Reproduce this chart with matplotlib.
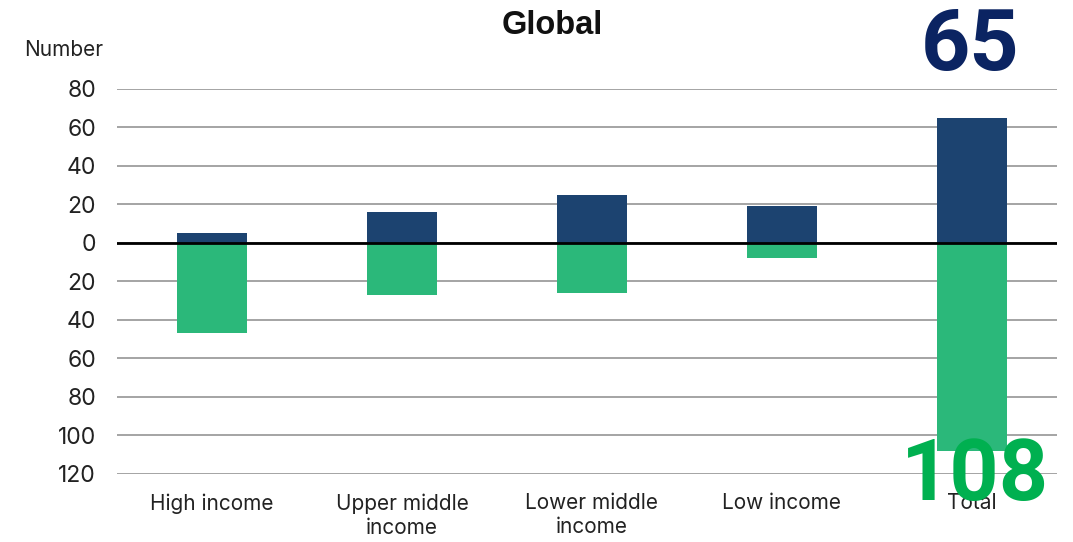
import matplotlib
matplotlib.use("Agg")
import matplotlib.pyplot as plt
from matplotlib.ticker import FuncFormatter

plt.rcParams['font.family'] = ['Inter', 'DejaVu Sans']

categories = ["High income", "Upper middle\nincome", "Lower middle\nincome", "Low income", "Total"]
positive = [5, 16, 25, 19, 65]
negative = [-47, -27, -26, -8, -108]
yticks = [80, 60, 40, 20, 0, -20, -40, -60, -80, -100, -120]

fig = plt.figure(figsize=(10.73, 5.42), dpi=100)
ax = fig.add_axes([0.109, 0.1255, 0.876, 0.7105])

x = list(range(len(categories)))
ax.bar(x, positive, width=0.37, color="#1c4370", zorder=2)
ax.bar(x, negative, width=0.37, color="#2bb87a", zorder=2)

ax.set_ylim(-120, 80)
ax.set_xlim(-0.5, 4.447)
ax.set_yticks(yticks)
ax.yaxis.set_major_formatter(FuncFormatter(lambda v, p: f"{abs(int(v))}"))
ax.grid(axis='y', color="#8c8c8c", linewidth=1.1, zorder=0)
ax.axhline(0, color="black", linewidth=2, zorder=3)
for s in ax.spines.values():
    s.set_visible(False)
ax.tick_params(axis='y', length=0, pad=15, labelsize=16.5, labelcolor="#222222")
ax.tick_params(axis='x', length=0, pad=14, labelsize=15, labelcolor="#222222")
ax.set_xticks(x)
ax.set_xticklabels(categories, linespacing=1.25, va='top')

fig.text(0.096, 0.908, "Number", ha='right', va='center', fontsize=15, color="#222222")
fig.text(0.5145, 0.937, "Global", ha='center', va='baseline', fontsize=23.5, fontweight='bold',
         color="#111111", family=['Liberation Sans', 'DejaVu Sans'])

fig.text(0.904, 0.871, f"{positive[-1]}", ha='center', va='baseline', fontsize=62, fontweight='bold',
         color="#0b2462", family=['Roboto', 'DejaVu Sans'])
fig.text(0.909, 0.077, f"{abs(negative[-1])}", ha='center', va='baseline', fontsize=62, fontweight='bold',
         color="#00b050", family=['Roboto', 'DejaVu Sans'], zorder=5)

fig.savefig("out.png", dpi=100)
